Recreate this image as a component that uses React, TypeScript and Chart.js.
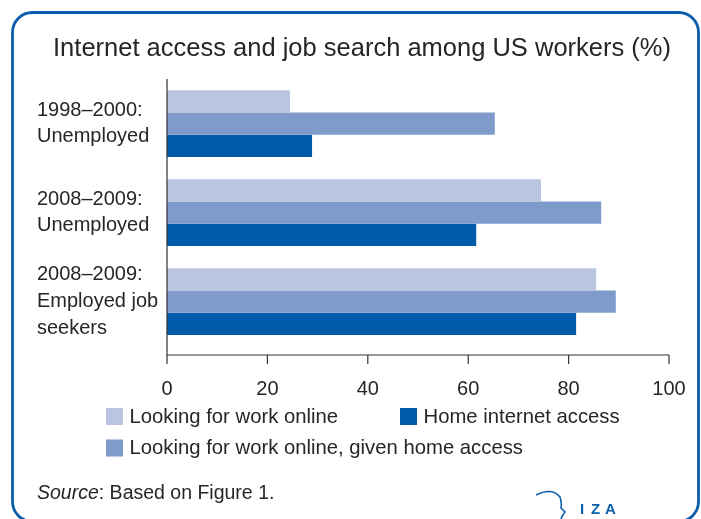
import { useEffect, useRef } from 'react';
import { Chart, registerables } from 'chart.js';

Chart.register(...registerables);

const categories: string[][] = [
  ['1998–2000:', 'Unemployed'],
  ['2008–2009:', 'Unemployed'],
  ['2008–2009:', 'Employed job', 'seekers'],
];
const seriesNames = [
  'Looking for work online',
  'Looking for work online, given home access',
  'Home internet access',
];
const lookingOnline = [24.5, 74.5, 85.5];
const lookingGivenAccess = [65.3, 86.5, 89.4];
const homeAccess = [28.9, 61.6, 81.5];
const xTicks = [0, 20, 40, 60, 80, 100];
const titleText = 'Internet access and job search among US workers (%)';
const sourceLabel = 'Source';
const sourceText = ': Based on Figure 1.';
const logoLetters = ['I', 'Z', 'A'];

const FONT = '"Liberation Sans", Arial, sans-serif';
const TEXT = '#262626';
const FRAME = '#0a5eab';
const COLORS = ['#bac5e2', '#7f9bcc', '#005cab'];

const decorPlugin = {
  id: 'decor',
  afterDraw(chart: any) {
    const { ctx, chartArea, scales } = chart;
    const xs = scales.x;
    const axisY = chartArea.bottom + 9;
    ctx.save();

    // frame
    ctx.strokeStyle = FRAME;
    ctx.lineWidth = 2.8;
    ctx.beginPath();
    ctx.roundRect(12.5, 12.5, 686, 509, 20);
    ctx.stroke();

    // title
    ctx.fillStyle = TEXT;
    ctx.font = `25.5px ${FONT}`;
    ctx.textAlign = 'center';
    ctx.textBaseline = 'alphabetic';
    ctx.fillText(titleText, 362, 56);

    // axes
    ctx.strokeStyle = '#333333';
    ctx.lineWidth = 1.2;
    ctx.beginPath();
    ctx.moveTo(chartArea.left, chartArea.top);
    ctx.lineTo(chartArea.left, axisY);
    ctx.lineTo(chartArea.right, axisY);
    xs.ticks.forEach((t: any) => {
      const px = xs.getPixelForValue(t.value);
      ctx.moveTo(px, axisY);
      ctx.lineTo(px, axisY + 9);
    });
    ctx.stroke();

    // legend
    const items = [
      { ds: 0, x: 106, y: 408 },
      { ds: 2, x: 400, y: 408 },
      { ds: 1, x: 106, y: 439.5 },
    ];
    ctx.font = `20.3px ${FONT}`;
    ctx.textAlign = 'left';
    ctx.textBaseline = 'middle';
    items.forEach((it) => {
      const ds = chart.data.datasets[it.ds];
      ctx.fillStyle = ds.backgroundColor;
      ctx.fillRect(it.x, it.y, 17, 17);
      ctx.fillStyle = TEXT;
      ctx.fillText(ds.label, it.x + 23.5, it.y + 9);
    });

    // source
    ctx.textBaseline = 'alphabetic';
    ctx.font = `italic 19.5px ${FONT}`;
    ctx.fillText(sourceLabel, 37, 499);
    const w = ctx.measureText(sourceLabel).width;
    ctx.font = `19.5px ${FONT}`;
    ctx.fillText(sourceText, 37 + w, 499);

    // logo
    ctx.strokeStyle = FRAME;
    ctx.lineWidth = 1.6;
    ctx.beginPath();
    ctx.moveTo(536, 495);
    ctx.quadraticCurveTo(552, 487, 560, 497);
    ctx.quadraticCurveTo(562, 503, 561, 508);
    ctx.lineTo(565, 512);
    ctx.quadraticCurveTo(562, 515, 561, 519);
    ctx.stroke();
    ctx.fillStyle = FRAME;
    ctx.font = `bold 15px ${FONT}`;
    const lx = [580, 591, 605];
    logoLetters.forEach((ch, i) => ctx.fillText(ch, lx[i], 514));

    ctx.restore();
  },
};

export default function App() {
  const ref = useRef<HTMLCanvasElement | null>(null);
  useEffect(() => {
    if (!ref.current) return;
    const chart = new Chart(ref.current, {
      type: 'bar',
      data: {
        labels: categories as any,
        datasets: [
          { label: seriesNames[0], data: lookingOnline, backgroundColor: COLORS[0] },
          { label: seriesNames[1], data: lookingGivenAccess, backgroundColor: COLORS[1] },
          { label: seriesNames[2], data: homeAccess, backgroundColor: COLORS[2] },
        ],
      },
      options: {
        indexAxis: 'y',
        responsive: false,
        animation: false,
        events: [],
        layout: { padding: { left: 37, right: 32, top: 79, bottom: 113 } },
        datasets: { bar: { categoryPercentage: 0.75, barPercentage: 1.0 } },
        plugins: { legend: { display: false }, title: { display: false }, tooltip: { enabled: false } },
        scales: {
          y: {
            type: 'category',
            grid: { display: false },
            border: { display: false },
            ticks: {
              crossAlign: 'far',
              color: TEXT,
              font: { family: FONT, size: 20, lineHeight: 1.33 },
            },
            afterFit: (s: any) => { s.width = 130; s.paddingTop = 0; s.paddingBottom = 0; },
          },
          x: {
            type: 'linear',
            min: 0,
            max: 100,
            grid: { display: false },
            border: { display: false },
            afterBuildTicks: (s: any) => { s.ticks = xTicks.map((v) => ({ value: v })); },
            ticks: {
              padding: 23.5,
              color: TEXT,
              font: { family: FONT, size: 20 },
            },
            afterFit: (s: any) => { s.height = 60; s.paddingLeft = 0; s.paddingRight = 0; },
          },
        },
      } as any,
      plugins: [decorPlugin],
    });
    return () => chart.destroy();
  }, []);
  return (
    <div style={{ position: 'absolute', left: 0, top: 0, width: 701, height: 519, background: '#fff' }}>
      <canvas ref={ref} width={701} height={519} style={{ display: 'block', width: 701, height: 519 }} />
    </div>
  );
}
